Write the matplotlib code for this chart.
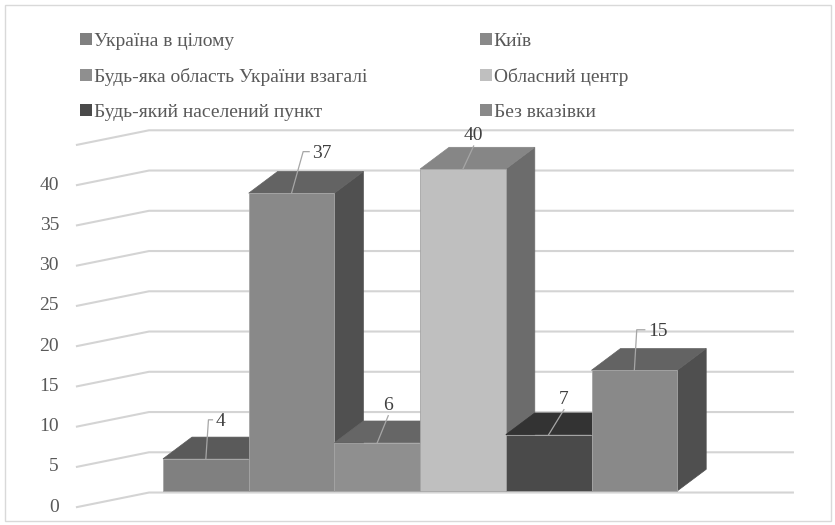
import matplotlib

matplotlib.use("Agg")
import matplotlib.pyplot as plt
from matplotlib.patches import Patch, Polygon, Rectangle

plt.rcParams["font.family"] = ["Liberation Serif", "DejaVu Serif"]

# data
categories = ["Україна в цілому", "Київ", "Будь-яка область України взагалі",
              "Обласний центр", "Будь-який населений пункт", "Без вказівки"]
values = [4, 37, 6, 40, 7, 15]
tick_values = [0, 5, 10, 15, 20, 25, 30, 35, 40]
grid_values = [0, 5, 10, 15, 20, 25, 30, 35, 40, 45]

# colours: front, top, side
front_colors = ["#808080", "#898989", "#8f8f8f", "#bfbfbf", "#4a4a4a", "#898989"]
top_colors = ["#5a5a5a", "#636363", "#666666", "#868686", "#333333", "#636363"]
side_colors = ["#4c4c4c", "#505050", "#545454", "#6c6c6c", "#2c2c2c", "#4f4f4f"]

# label leader offsets in pixels (dx, dy up, tail length)
label_offsets = [(2.6, 39, 4), (11.6, 41.5, 6), (11, 27, 0), (10.7, 23, 0), (15.3, 25, 0), (2.4, 40.5, 8)]

W, H = 835, 525
fig = plt.figure(figsize=(W / 100, H / 100), dpi=100)
ax = fig.add_axes([0, 0, 1, 1])
ax.set_axis_off()

# one category = 85.7 px, one value unit = 8.05 px
SX, SY = 85.7, 8.05
ax.set_xlim(-163 / SX, (W - 163) / SX)
ax.set_ylim(-(H - 491) / SY, 491 / SY)

DX, DY = 29 / SX, 21.7 / SY          # bar depth
WALL_FX, WALL_BX, WALL_RX = -1.004, -0.163, 7.35
FRONT_SHIFT, BACK_SHIFT = -2.0, -0.19
grid_c = "#d4d4d4"

for g in grid_values:
    ax.plot([WALL_FX, WALL_BX, WALL_RX], [g + FRONT_SHIFT, g + BACK_SHIFT, g + BACK_SHIFT],
            color=grid_c, lw=1.5, zorder=1, solid_joinstyle="miter")
for t in tick_values:
    ax.text(-1.214, t + FRONT_SHIFT, str(t), ha="right", va="center",
            fontsize=14, color="#595959")

for i, v in enumerate(values):
    x0, x1 = i, i + 1
    z = 2 + i
    side = Polygon([(x1, 0), (x1 + DX, DY), (x1 + DX, v + DY), (x1, v)], closed=True,
                   facecolor=side_colors[i], edgecolor=side_colors[i], lw=0.5, zorder=z)
    top = Polygon([(x0, v), (x0 + DX, v + DY), (x1 + DX, v + DY), (x1, v)], closed=True,
                  facecolor=top_colors[i], edgecolor=top_colors[i], lw=0.5, zorder=z)
    front = Rectangle((x0, 0), 1, v, facecolor=front_colors[i], edgecolor="#a5a5a5",
                      lw=0.6, zorder=z)
    for p in (side, top, front):
        ax.add_patch(p)

    # data label with leader line
    cx = x0 + 0.5
    ox, oy, tail = label_offsets[i]
    ex, ey = cx + ox / SX, v + oy / SY
    if tail:
        ax.plot([cx, ex, ex + tail / SX], [v, ey, ey], color="#a6a6a6", lw=0.9, zorder=20)
        ax.text(ex + (tail + 3) / SX, ey - 2 / SY, str(v), ha="left", va="center",
                fontsize=14, color="#404040", zorder=21)
    else:
        ax.plot([cx, ex], [v, ey], color="#a6a6a6", lw=0.9, zorder=20)
        ax.text(ex, ey + 2 / SY, str(v), ha="center", va="bottom",
                fontsize=14, color="#404040", zorder=21)

# legend in two columns
handles = [Patch(facecolor=c, edgecolor="none") for c in front_colors]
for col, xpos in enumerate([80, 480]):
    idx = [col, col + 2, col + 4]
    leg = fig.legend([handles[k] for k in idx], [categories[k] for k in idx],
                     loc="upper left", bbox_to_anchor=(xpos / W, 1 - 33 / H),
                     frameon=False, fontsize=14, handlelength=0.6, handleheight=0.6,
                     handletextpad=0.1, labelspacing=0.92, borderpad=0, borderaxespad=0)
    for txt in leg.get_texts():
        txt.set_color("#595959")

# chart border
fig.patches.append(Rectangle((4.5 / W, 4.5 / H), 826 / W, 516 / H, transform=fig.transFigure,
                             fill=False, edgecolor="#d9d9d9", lw=1))

fig.savefig("out.png", dpi=100)
plt.close(fig)
